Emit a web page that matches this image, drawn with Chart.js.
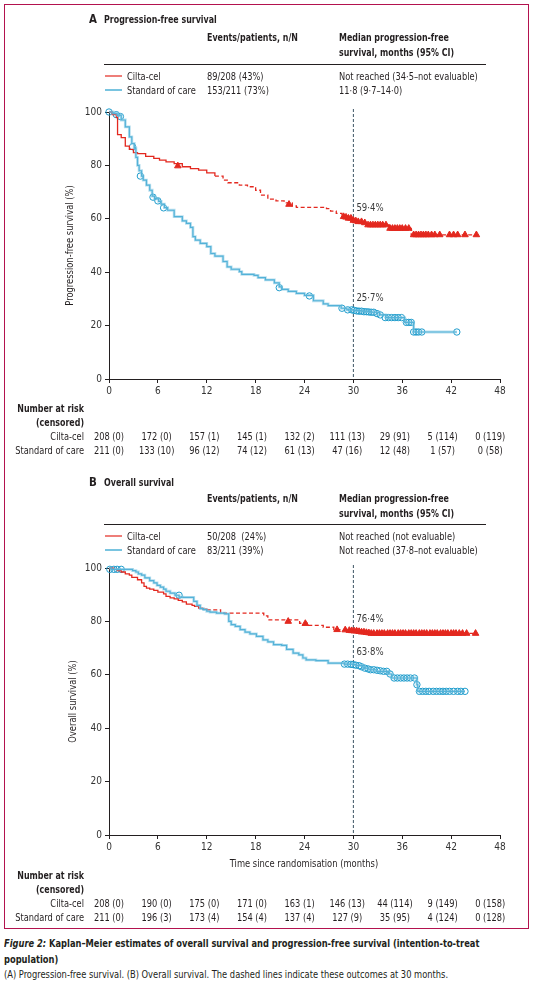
<!DOCTYPE html>
<html>
<head>
<meta charset="utf-8">
<script src="https://cdn.jsdelivr.net/npm/chart.js@4"></script>
<style>
  body { margin: 0; background: #fff; }
  #wrap { position: relative; width: 534px; height: 987px; }
  .frame { position: absolute; left: 4px; top: 4px; width: 523px; height: 923px; border: 1.5px solid #b3124e; }
  canvas { position: absolute; left: 0; }
  .cap { position: absolute; left: 4px; top: 936px; font-size: 11px; line-height: 15.5px; color: #231f20; }
  .cap div { white-space: nowrap; transform: scaleX(0.84); transform-origin: 0 0; }
</style>
</head>
<body>
<div id="wrap">
  <div class="frame"></div>
  <canvas id="pfs" width="534" height="465" style="top:0"></canvas>
  <canvas id="os" width="534" height="465" style="top:465px"></canvas>
  <div class="cap" id="cap">
    <div><b><i>Figure 2:</i> Kaplan–Meier estimates of overall survival and progression-free survival (intention-to-treat</b></div>
    <div><b>population)</b></div>
    <div>(A) Progression-free survival. (B) Overall survival. The dashed lines indicate these outcomes at 30 months.</div>
  </div>
</div>
<script>
// ---- data ----
const groups = ['Cilta-cel', 'Standard of care'];
const xTicks = [0, 6, 12, 18, 24, 30, 36, 42, 48];
const yTicks = [0, 20, 40, 60, 80, 100];

// A: progression-free survival
const pfsCiltaTime = [0, 0.4, 0.9, 1.05, 1.5, 2.0, 2.5, 3.0, 3.5, 4.5, 5.5, 6.2, 7.0, 8.0, 9.0, 10.0, 11.0, 12.0, 13.0, 14.0, 14.6, 16.0, 17.0, 18.0, 18.6, 19.5, 20.5, 21.5, 22.5, 23.0, 26.7, 27.2, 27.9, 28.6, 29.3, 30.0, 30.5, 31.2, 31.8, 34.4, 37.1, 45.1];
const pfsCiltaSurv = [100, 99, 98, 91.5, 90.4, 87.2, 86, 84.8, 84.4, 83.4, 82.6, 82, 81.3, 80.7, 79.5, 78.8, 78.2, 77.2, 76, 74.5, 73.5, 72.6, 72, 70.7, 68.9, 67.4, 66.7, 66, 64.8, 64.3, 63.8, 62.9, 62, 61, 60.2, 59.4, 58.9, 58.5, 57.7, 56.4, 54, 54];
const pfsCiltaCensTime = [8.45, 22.1, 28.8, 29.1, 29.4, 29.7, 30.0, 30.3, 30.6, 31.0, 31.4, 31.8, 32.1, 32.4, 32.7, 33.0, 33.3, 33.6, 34.0, 34.5, 34.8, 35.1, 35.4, 35.7, 36.0, 36.4, 36.8, 37.4, 37.7, 38.0, 38.3, 38.6, 38.9, 39.2, 39.6, 40.0, 40.6, 41.8, 42.3, 42.8, 43.7, 45.1];
const pfsCiltaCensSurv = [79.8, 65.4, 60.8, 60.6, 60.2, 60.2, 59.4, 59.2, 58.9, 58.9, 58.5, 57.7, 57.7, 57.7, 57.7, 57.7, 57.7, 57.7, 57.7, 56.4, 56.4, 56.4, 56.4, 56.4, 56.4, 56.4, 56.4, 54, 54, 54, 54, 54, 54, 54, 54, 54, 54, 54, 54, 54, 54, 54];
const pfsSocTime = [0, 0.5, 1.0, 1.5, 2.0, 2.5, 2.8, 3.1, 3.3, 3.5, 3.7, 4.0, 4.2, 4.6, 5.0, 5.3, 5.6, 6.1, 6.4, 6.8, 7.2, 8.0, 9.0, 9.5, 10.0, 10.3, 10.6, 11.2, 12.0, 12.5, 13.0, 14.0, 14.5, 15.0, 16.0, 16.3, 17.8, 18.3, 19.2, 20.3, 20.9, 21.2, 22.0, 23.0, 24.0, 25.1, 26.3, 26.9, 28.5, 29.2, 30.0, 31.0, 32.2, 33.2, 34.0, 36.3, 37.4, 42.7];
const pfsSocSurv = [100, 99.5, 98.8, 97, 94.4, 90.7, 88.2, 86.5, 83, 80, 78, 76, 74.5, 72.6, 70.7, 68.5, 67.5, 66.5, 65.5, 64.2, 63.2, 60.8, 59.2, 58.3, 56.8, 53.3, 52, 50.8, 49.6, 47, 46, 44, 42, 41.1, 40.2, 39.2, 38.8, 38, 37.1, 36, 34.5, 33.6, 32.8, 32.1, 31.3, 29.3, 28.1, 27.5, 26.5, 25.9, 25.7, 25.4, 25, 24, 23, 21.2, 17.6, 17.6];
const pfsSocCensTime = [0, 0.9, 1.4, 2.9, 3.85, 5.4, 6.0, 6.7, 20.9, 24.6, 28.6, 29.3, 29.8, 30.1, 30.4, 30.7, 31.0, 31.3, 31.6, 31.9, 32.2, 32.5, 32.9, 33.3, 33.9, 34.3, 34.7, 35.1, 35.5, 35.9, 36.5, 36.8, 37.1, 37.4, 37.7, 38.0, 38.4, 42.7];
const pfsSocCensSurv = [100, 99, 98.3, 87, 76, 68.1, 66.7, 64.1, 34.2, 31.1, 26.5, 25.9, 25.9, 25.7, 25.5, 25.4, 25.4, 25.2, 25.2, 25.1, 25, 25, 24.5, 24, 23, 23, 23, 23, 23, 23, 21.2, 21.2, 21.2, 17.6, 17.6, 17.6, 17.6, 17.6];
const pfsAt30 = [59.4, 25.7];
const pfsEvents = ['89/208 (43%)', '153/211 (73%)'];
const pfsMedian = ['Not reached (34·5–not evaluable)', '11·8 (9·7–14·0)'];
const pfsRiskCilta = ['208 (0)', '172 (0)', '157 (1)', '145 (1)', '132 (2)', '111 (13)', '29 (91)', '5 (114)', '0 (119)'];
const pfsRiskSoc = ['211 (0)', '133 (10)', '96 (12)', '74 (12)', '61 (13)', '47 (16)', '12 (48)', '1 (57)', '0 (58)'];

// B: overall survival
const osCiltaTime = [0, 0.5, 1.0, 1.5, 2.0, 2.5, 2.8, 3.5, 4.0, 4.3, 4.6, 5.0, 5.5, 6.0, 6.7, 7.0, 7.5, 8.0, 8.5, 9.0, 9.5, 10.2, 10.5, 11.0, 11.5, 12.0, 13.7, 19.0, 19.5, 23.4, 24.5, 26.3, 27.6, 29.0, 30.0, 31.0, 32.0, 45.0];
const osCiltaSurv = [100, 99.5, 99, 98.5, 97.8, 97.3, 96.5, 95.6, 94.4, 93.1, 92.5, 92.1, 91.6, 91, 90.3, 89.4, 88.8, 88.4, 87.9, 87.3, 86.5, 86, 85.6, 85, 84.6, 84.3, 83.1, 82.1, 80.6, 79.3, 78.5, 77.8, 76.9, 76.6, 76.4, 76, 75.5, 75.5];
const osCiltaCensTime = [22.0, 24.1, 28.0, 29.0, 29.5, 29.8, 30.1, 30.4, 30.7, 31.0, 31.3, 31.6, 31.9, 32.2, 32.5, 32.9, 33.2, 33.5, 33.8, 34.2, 34.5, 34.8, 35.1, 35.5, 35.8, 36.1, 36.4, 36.8, 37.1, 37.4, 37.7, 38.1, 38.4, 38.7, 39.0, 39.4, 39.7, 40.0, 40.3, 40.7, 41.0, 41.3, 41.6, 42.0, 42.3, 42.6, 43.0, 43.4, 43.9, 45.0];
const osCiltaCensSurv = [80, 79.2, 76.9, 76.8, 76.6, 76.5, 76.4, 76.4, 76.2, 76, 76, 75.8, 75.7, 75.5, 75.5, 75.5, 75.5, 75.5, 75.5, 75.5, 75.5, 75.5, 75.5, 75.5, 75.5, 75.5, 75.5, 75.5, 75.5, 75.5, 75.5, 75.5, 75.5, 75.5, 75.5, 75.5, 75.5, 75.5, 75.5, 75.5, 75.5, 75.5, 75.5, 75.5, 75.5, 75.5, 75.5, 75.5, 75.5, 75.5];
const osSocTime = [0, 0.3, 2.9, 3.3, 3.6, 4.0, 4.4, 5.0, 5.5, 5.9, 6.3, 6.7, 7.0, 7.5, 8.1, 8.6, 9.1, 10.4, 10.8, 11.2, 11.6, 12.0, 12.4, 13.2, 14.2, 14.7, 15.0, 15.5, 16.1, 16.7, 17.3, 18.1, 18.9, 19.5, 20.2, 21.2, 21.8, 22.6, 23.3, 23.8, 24.2, 25.4, 26.9, 28.9, 30.0, 30.4, 31.2, 31.9, 32.8, 34.3, 34.7, 37.8, 37.9, 43.7];
const osSocSurv = [100, 99.5, 99, 98.5, 97.8, 97.3, 96.3, 95.3, 94.4, 93.5, 92.8, 92.1, 91.3, 90.6, 89.8, 89.1, 89, 87.5, 86, 84.8, 84.4, 83.8, 83.5, 83.1, 82.8, 80, 78.8, 78.1, 76.9, 76, 75.3, 74.4, 73.1, 72.3, 71.3, 71, 69.5, 68.1, 67.5, 66.3, 65.6, 65.3, 64.4, 64, 63.8, 63.4, 62.5, 61.9, 61.3, 60.3, 58.8, 56.3, 53.8, 53.8];
const osSocCensTime = [0.1, 0.6, 1.0, 1.5, 8.6, 28.9, 29.3, 29.7, 30.0, 30.3, 30.7, 31.0, 31.4, 31.8, 32.1, 32.5, 32.9, 33.3, 33.7, 34.1, 34.5, 35.0, 35.4, 35.8, 36.2, 36.6, 37.0, 37.5, 37.8, 38.1, 38.5, 38.9, 39.3, 39.8, 40.2, 40.6, 41.0, 41.4, 41.8, 42.3, 42.8, 43.2, 43.7];
const osSocCensSurv = [99.5, 99.5, 99.5, 99.5, 89.8, 64, 64, 63.9, 63.8, 63.6, 63.4, 63, 62.5, 62.2, 61.9, 61.9, 61.7, 61.5, 61.3, 61.3, 60.3, 58.8, 58.8, 58.8, 58.8, 58.8, 58.8, 58.8, 56.3, 53.8, 53.8, 53.8, 53.8, 53.8, 53.8, 53.8, 53.8, 53.8, 53.8, 53.8, 53.8, 53.8, 53.8];
const osAt30 = [76.4, 63.8];
const osEvents = ['50/208  (24%)', '83/211 (39%)'];
const osMedian = ['Not reached (not evaluable)', 'Not reached (37·8–not evaluable)'];
const osRiskCilta = ['208 (0)', '190 (0)', '175 (0)', '171 (0)', '163 (1)', '146 (13)', '44 (114)', '9 (149)', '0 (158)'];
const osRiskSoc = ['211 (0)', '196 (3)', '173 (4)', '154 (4)', '137 (4)', '127 (9)', '35 (95)', '4 (124)', '0 (128)'];

// ---- styling ----
const RED = '#e3281f';
const BLUE = '#1f9ccc';
const BLUE_HALO = 'rgba(125,196,226,0.55)';
const INK = '#231f20';
const AXIS = '#231f20';

function hasFont(name) {
  const c = document.createElement('canvas').getContext('2d');
  const s = 'abcdefghijklmnopqrstuvwxyz0123456789';
  c.font = '20px monospace';
  const a = c.measureText(s).width;
  c.font = '20px "' + name + '", monospace';
  return c.measureText(s).width !== a;
}
const FONT = ['Liberation Sans Narrow', 'DejaVu Sans Condensed', 'Lato'].find(hasFont) || 'sans-serif';
const FF = '"' + FONT + '", sans-serif';
document.getElementById('cap').style.fontFamily = FF;

Chart.defaults.font.family = FF;
Chart.defaults.font.size = 10;
Chart.defaults.color = INK;

function toXY(xs, ys) {
  return xs.map((x, i) => ({ x: x, y: ys[i] }));
}

// text squeezed horizontally to mimic the narrow journal face
function txt(ctx, s, x, y, align, k) {
  ctx.save();
  ctx.translate(x, y);
  ctx.scale(k, 1);
  ctx.textAlign = align;
  ctx.fillText(s, 0, 0);
  ctx.restore();
}

const panelText = {
  id: 'panelText',
  beforeDatasetsDraw(chart, args, o) {
    const ctx = chart.ctx, x = chart.scales.x, a = chart.chartArea;
    const px = x.getPixelForValue(30);
    ctx.save();
    ctx.strokeStyle = '#3d5564';
    ctx.lineWidth = 1;
    ctx.setLineDash([3, 2]);
    ctx.beginPath();
    ctx.moveTo(px, a.top - 3);
    ctx.lineTo(px, a.bottom);
    ctx.stroke();
    ctx.restore();
  },
  afterDraw(chart, args, o) {
    const ctx = chart.ctx, x = chart.scales.x, y = chart.scales.y, a = chart.chartArea;
    const KB = 0.88, KR = 0.92;
    ctx.save();
    ctx.fillStyle = INK;
    ctx.textBaseline = 'middle';

    // panel title
    ctx.font = 'bold 12px ' + FF;
    txt(ctx, o.letter, 89, o.titleY, 'left', 0.95);
    ctx.font = 'bold 10px ' + FF;
    txt(ctx, o.title, 104, o.titleY, 'left', KB);

    // header table
    txt(ctx, 'Events/patients, n/N', 207, o.headY, 'left', KB);
    txt(ctx, 'Median progression-free', 339, o.headY, 'left', KB);
    txt(ctx, 'survival, months (95% CI)', 339, o.headY + 15, 'left', KB);
    ctx.strokeStyle = INK;
    ctx.lineWidth = 1;
    ctx.beginPath();
    ctx.moveTo(104, o.ruleY + 0.5);
    ctx.lineTo(486, o.ruleY + 0.5);
    ctx.stroke();

    ctx.font = '10px ' + FF;
    [RED, BLUE].forEach((c, i) => {
      const ry = o.legY + i * 14;
      ctx.strokeStyle = c;
      ctx.lineWidth = 1.2;
      ctx.beginPath();
      ctx.moveTo(105, ry - 1);
      ctx.lineTo(122, ry - 1);
      ctx.stroke();
      txt(ctx, groups[i], 127, ry, 'left', KR);
      txt(ctx, o.events[i], 207, ry, 'left', KR);
      txt(ctx, o.median[i], 339, ry, 'left', KR);
    });

    // y axis title
    ctx.save();
    ctx.translate(o.yTitleX, (a.top + a.bottom) / 2);
    ctx.rotate(-Math.PI / 2);
    txt(ctx, o.yTitle, 0, 0, 'center', 0.93);
    ctx.restore();

    // values at 30 months
    ctx.fillStyle = '#3a3a3a';
    o.at30.forEach(v => {
      const lbl = v.toFixed(1).replace('.', '·') + '%';
      txt(ctx, lbl, x.getPixelForValue(30) + 3, y.getPixelForValue(v) - 12, 'left', 0.95);
    });
    ctx.fillStyle = INK;

    // x axis title
    if (o.xTitle) {
      txt(ctx, o.xTitle, 304, o.xTitleY, 'center', 0.93);
    }

    // number at risk table
    ctx.font = 'bold 10px ' + FF;
    txt(ctx, 'Number at risk', 84, o.riskY, 'right', KB);
    txt(ctx, '(censored)', 84, o.riskY + 14, 'right', KB);
    ctx.font = '10px ' + FF;
    [o.riskCilta, o.riskSoc].forEach((row, r) => {
      const ry = o.riskY + 28 + r * 14;
      txt(ctx, groups[r], 84, ry, 'right', KR);
      row.forEach((s, i) => {
        const px = x.getPixelForValue(xTicks[i]);
        txt(ctx, s, a.left + (px - a.left) * 0.975, ry, 'center', KR);
      });
    });
    ctx.restore();
  }
};

function makeChart(id, p) {
  return new Chart(document.getElementById(id), {
    type: 'line',
    data: {
      datasets: [
        {
          data: toXY(p.socTime, p.socSurv),
          borderColor: BLUE_HALO, borderWidth: 2.8, stepped: true,
          pointRadius: 0, clip: 8
        },
        {
          data: toXY(p.socTime, p.socSurv),
          borderColor: BLUE, borderWidth: 1.2, stepped: true,
          pointRadius: 0, clip: 8
        },
        {
          data: toXY(p.ciltaTime, p.ciltaSurv),
          borderColor: RED, borderWidth: 1.3, stepped: true,
          pointRadius: 0, clip: 8,
          segment: { borderDash: c => (c.p0.parsed.x >= p.dashFrom ? [4, 2.5] : undefined) }
        },
        {
          type: 'scatter',
          data: toXY(p.socCensTime, p.socCensSurv),
          pointStyle: 'circle', pointRadius: 3.2, borderWidth: 1,
          borderColor: BLUE, backgroundColor: 'rgba(255,255,255,0)', clip: 8
        },
        {
          type: 'scatter',
          data: toXY(p.ciltaCensTime, p.ciltaCensSurv),
          pointStyle: 'triangle', pointRadius: 3.8, borderWidth: 1,
          borderColor: RED, backgroundColor: RED, clip: 8
        }
      ]
    },
    options: {
      responsive: false,
      animation: false,
      devicePixelRatio: 1,
      layout: { padding: { left: 0, right: 34, top: p.padTop, bottom: p.padBottom } },
      plugins: {
        legend: { display: false },
        tooltip: { enabled: false },
        panelText: p.text
      },
      scales: {
        x: {
          type: 'linear', min: 0, max: 48,
          afterBuildTicks: s => { s.ticks = xTicks.map(v => ({ value: v })); },
          afterFit: s => { s.height = 20; },
          ticks: { padding: 2, maxRotation: 0, color: '#333' },
          grid: { drawOnChartArea: false, tickLength: 4, color: AXIS },
          border: { color: AXIS, width: 1 }
        },
        y: {
          type: 'linear', min: 0, max: 100,
          afterBuildTicks: s => { s.ticks = yTicks.map(v => ({ value: v })); },
          afterFit: s => { s.width = 109; },
          ticks: { padding: 3, color: '#333' },
          grid: { drawOnChartArea: false, tickLength: 4, color: AXIS },
          border: { color: AXIS, width: 1 }
        }
      }
    },
    plugins: [panelText]
  });
}

makeChart('pfs', {
  ciltaTime: pfsCiltaTime, ciltaSurv: pfsCiltaSurv,
  ciltaCensTime: pfsCiltaCensTime, ciltaCensSurv: pfsCiltaCensSurv,
  socTime: pfsSocTime, socSurv: pfsSocSurv,
  socCensTime: pfsSocCensTime, socCensSurv: pfsSocCensSurv,
  dashFrom: 13, padTop: 112, padBottom: 66,
  text: {
    letter: 'A', title: 'Progression-free survival', titleY: 20,
    headY: 38, ruleY: 64, legY: 77,
    events: pfsEvents, median: pfsMedian,
    yTitle: 'Progression-free survival (%)', yTitleX: 70,
    at30: pfsAt30, riskY: 409,
    riskCilta: pfsRiskCilta, riskSoc: pfsRiskSoc
  }
});

makeChart('os', {
  ciltaTime: osCiltaTime, ciltaSurv: osCiltaSurv,
  ciltaCensTime: osCiltaCensTime, ciltaCensSurv: osCiltaCensSurv,
  socTime: osSocTime, socSurv: osSocSurv,
  socCensTime: osSocCensTime, socCensSurv: osSocCensSurv,
  dashFrom: 12, padTop: 103, padBottom: 75,
  text: {
    letter: 'B', title: 'Overall survival', titleY: 18,
    headY: 34, ruleY: 59, legY: 72,
    events: osEvents, median: osMedian,
    yTitle: 'Overall survival (%)', yTitleX: 73,
    at30: osAt30, xTitle: 'Time since randomisation (months)', xTitleY: 399,
    riskY: 411,
    riskCilta: osRiskCilta, riskSoc: osRiskSoc
  }
});
</script>
</body>
</html>
